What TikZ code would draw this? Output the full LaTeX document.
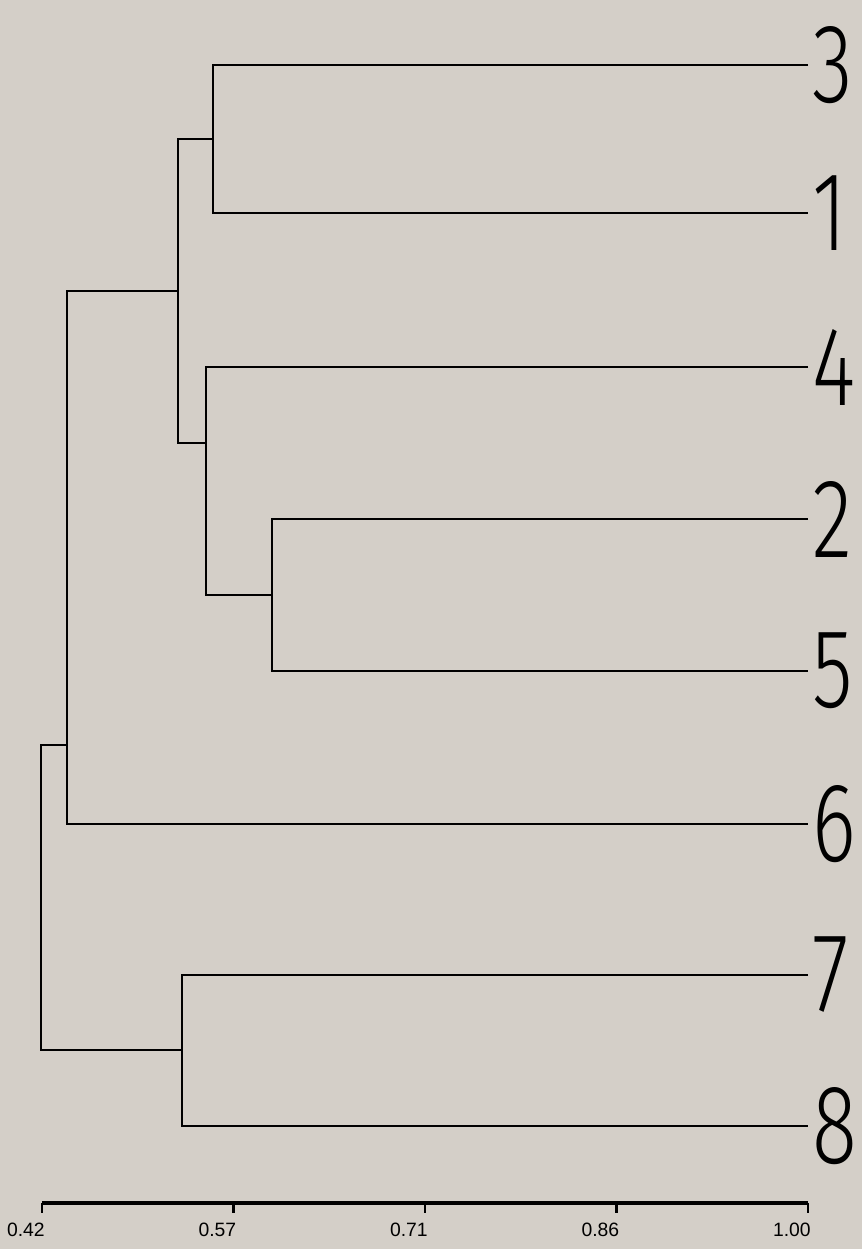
\documentclass[tikz,border=0pt]{standalone}
\usepackage{fontspec}
\setmainfont{Liberation Sans}
\newfontfamily\leaffont{Fira Sans}[UprightFont={* Light}]
\usetikzlibrary{positioning}

\definecolor{paper}{RGB}{212,207,200}

\begin{document}
\begin{tikzpicture}[x=0.02cm,y=-0.02cm,
  branch/.style={line width=1.35pt,black},
  axisline/.style={line width=2pt,black},
  tickmark/.style={line width=1.3pt,black},
  leaf/.style={anchor=west,inner xsep=0.08cm,inner ysep=0pt,font=\leaffont\fontsize{64}{64}\selectfont},
  ticklabel/.style={anchor=north east,inner sep=0pt,font=\fontsize{11}{12}\selectfont}
]
  % page
  \fill[paper] (0,0) rectangle (862,1249);
  \useasboundingbox (0,0) rectangle (862,1249);

  % leaves
  \node[leaf] (l3) at (808,65) {\scalebox{0.74}[1]{3}};
  \node[leaf] (l1) at (808,213) {\scalebox{0.74}[1]{1}};
  \node[leaf] (l4) at (808,367) {\scalebox{0.74}[1]{4}};
  \node[leaf] (l2) at (808,519) {\scalebox{0.74}[1]{2}};
  \node[leaf] (l5) at (808,671) {\scalebox{0.74}[1]{5}};
  \node[leaf] (l6) at (808,824) {\scalebox{0.74}[1]{6}};
  \node[leaf] (l7) at (808,975) {\scalebox{0.74}[1]{7}};
  \node[leaf] (l8) at (808,1126) {\scalebox{0.74}[1]{8}};

  % joins
  \coordinate (j31) at (213,139);
  \coordinate (j25) at (272,595);
  \coordinate (j425) at (206,443);
  \coordinate (j31425) at (178,291);
  \coordinate (j6) at (67,745);
  \coordinate (j78) at (182,1050);
  \coordinate (root) at (41,900);

  \draw[branch] (l3.west) -| (j31) |- (l1.west);
  \draw[branch] (l2.west) -| (j25) |- (l5.west);
  \draw[branch] (l4.west) -| (j425) |- (j25);
  \draw[branch] (j31) -| (j31425) |- (j425);
  \draw[branch] (j31425) -| (j6) |- (l6.west);
  \draw[branch] (l7.west) -| (j78) |- (l8.west);
  \draw[branch] (j6) -| (root) |- (j78);

  % scale
  \coordinate (ax0) at (42,1203);
  \coordinate (ax4) at (808,1203);
  \draw[axisline] (ax0) -- (ax4);
  \foreach \x/\v [count=\i] in {42/0.42,233.5/0.57,425/0.71,616.5/0.86,808/1.00}{
    \coordinate (t\i) at (\x,1203);
    \draw[tickmark] (t\i) -- ++(0,10);
    \node[ticklabel] (v\i) at (\x+3,1223) {\v};
  }
\end{tikzpicture}
\end{document}
